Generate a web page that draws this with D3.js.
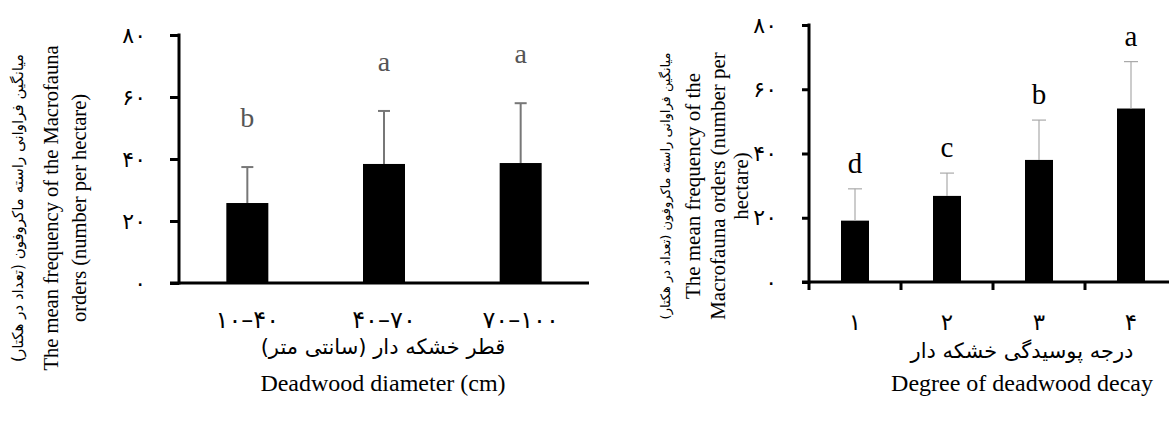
<!DOCTYPE html>
<html>
<head>
<meta charset="utf-8">
<script src="https://cdn.jsdelivr.net/npm/d3@7"></script>
<style>
  body { margin: 0; background: #fff; }
  svg text { font-family: "Liberation Serif", "Times New Roman", serif; }
  .fa { font-family: "DejaVu Sans", sans-serif; }
</style>
</head>
<body>
<svg id="chart" width="1169" height="421"></svg>
<script>
// left chart: diameter classes
const diamCats = ["۱۰–۴۰", "۴۰–۷۰", "۷۰–۱۰۰"];
const diamMeans = [25.8, 38.4, 38.7];
const diamErr = [11.6, 17.1, 19.3];
const diamLetters = ["b", "a", "a"];

// right chart: decay degree
const decayCats = ["۱", "۲", "۳", "۴"];
const decayMeans = [19.1, 26.8, 38.0, 54.0];
const decayErr = [9.9, 7.1, 12.4, 14.6];
const decayLetters = ["d", "c", "b", "a"];

const yTicks = [0, 20, 40, 60, 80];

const faDigits = "۰۱۲۳۴۵۶۷۸۹";
const fa = n => String(n).replace(/\d/g, d => faDigits[d]);

const svg = d3.select("#chart");

function drawChart(opt) {
  const y = d3.scaleLinear().domain([0, 80]).range([opt.y0, opt.y1]);
  const x = d3.scaleBand().domain(opt.cats).range([opt.x0, opt.x1]).padding(0);
  const cx = i => x(opt.cats[i]) + x.bandwidth() / 2;
  const g = svg.append("g");

  // bars
  g.selectAll("rect.bar")
    .data(opt.means)
    .enter().append("rect")
    .attr("class", "bar")
    .attr("x", (d, i) => cx(i) - opt.barW / 2)
    .attr("y", d => y(d))
    .attr("width", opt.barW)
    .attr("height", d => y(0) - y(d))
    .attr("fill", "#000");

  // error bars
  const eb = g.selectAll("g.err")
    .data(opt.means)
    .enter().append("g")
    .attr("class", "err")
    .attr("stroke", opt.errColor)
    .attr("stroke-width", opt.errW);
  eb.append("line")
    .attr("x1", (d, i) => cx(i))
    .attr("x2", (d, i) => cx(i))
    .attr("y1", d => y(d))
    .attr("y2", (d, i) => y(d + opt.err[i]));
  eb.append("line")
    .attr("x1", (d, i) => cx(i) - opt.capW)
    .attr("x2", (d, i) => cx(i) + opt.capW)
    .attr("y1", (d, i) => y(d + opt.err[i]))
    .attr("y2", (d, i) => y(d + opt.err[i]));

  // significance letters
  g.selectAll("text.letter")
    .data(opt.letters)
    .enter().append("text")
    .attr("class", "letter")
    .attr("x", (d, i) => cx(i))
    .attr("y", (d, i) => y(opt.means[i] + opt.err[i]) - opt.letterGap)
    .attr("text-anchor", "middle")
    .attr("font-size", opt.letterSize)
    .attr("fill", opt.letterColor)
    .text(d => d);

  // y axis
  const yAxis = g.append("g")
    .attr("transform", `translate(${opt.x0},0)`)
    .call(d3.axisLeft(y).tickValues(yTicks).tickSize(opt.tick).tickPadding(opt.tickPad).tickFormat(fa));
  yAxis.select(".domain").attr("stroke-width", 3).attr("d", `M0,${opt.y1 - 1.5}V${opt.y0 + 1.5}`);
  yAxis.selectAll(".tick line").attr("stroke-width", 3);
  yAxis.selectAll(".tick text").attr("font-size", opt.yLabSize).attr("class", "fa");

  // x axis line
  g.append("line")
    .attr("x1", opt.x0 - opt.tick).attr("x2", opt.xLineEnd)
    .attr("y1", opt.y0).attr("y2", opt.y0)
    .attr("stroke", "#000").attr("stroke-width", 3);

  if (opt.xTicks) {
    g.selectAll("line.xt")
      .data(d3.range(opt.cats.length))
      .enter().append("line")
      .attr("x1", i => x(opt.cats[i])).attr("x2", i => x(opt.cats[i]))
      .attr("y1", opt.y0).attr("y2", opt.y0 + 8)
      .attr("stroke", "#000").attr("stroke-width", 3);
  }

  // x labels
  g.selectAll("text.xl")
    .data(opt.cats)
    .enter().append("text")
    .attr("class", "fa")
    .attr("x", d => x(d) + x.bandwidth() / 2)
    .attr("y", opt.xLabY)
    .attr("text-anchor", "middle")
    .attr("font-size", opt.xLabSize)
    .text(d => d);

  // x titles
  g.append("text")
    .attr("class", "fa")
    .attr("x", opt.xTitleX).attr("y", opt.xTitleFaY)
    .attr("text-anchor", "middle").attr("direction", "rtl")
    .attr("font-size", opt.xTitleFaSize)
    .text(opt.xTitleFa);
  g.append("text")
    .attr("x", opt.xTitleX).attr("y", opt.xTitleEnY)
    .attr("text-anchor", "middle")
    .attr("font-size", opt.xTitleEnSize)
    .text(opt.xTitleEn);

  // y titles (rotated)
  opt.yTitle.forEach(t => {
    g.append("text")
      .attr("class", t.fa ? "fa" : null)
      .attr("transform", `translate(${t.x},${opt.yTitleCy}) rotate(-90)`)
      .attr("text-anchor", "middle")
      .attr("direction", t.fa ? "rtl" : "ltr")
      .attr("font-size", t.size)
      .text(t.text);
  });
}

const yTitleFa = "میانگین فراوانی راسته ماکروفون (تعداد در هکتار)";

drawChart({
  cats: diamCats, means: diamMeans, err: diamErr, letters: diamLetters,
  x0: 179, x1: 589, y0: 283, y1: 35, xLineEnd: 589,
  barW: 42, capW: 6, errColor: "#777", errW: 2,
  letterSize: 28, letterColor: "#555", letterGap: 40,
  tick: 9, tickPad: 24, yLabSize: 22,
  xTicks: false, xLabY: 328, xLabSize: 24,
  xTitleX: 383, xTitleFaY: 354, xTitleFaSize: 21,
  xTitleFa: "قطر خشکه دار (سانتی متر)",
  xTitleEnY: 391, xTitleEnSize: 24, xTitleEn: "Deadwood diameter (cm)",
  yTitleCy: 208,
  yTitle: [
    { x: 23, size: 15, fa: true, text: yTitleFa },
    { x: 58, size: 20.5, text: "The mean frequency of the Macrofauna" },
    { x: 86, size: 20.5, text: "orders  (number per hectare)" }
  ]
});

drawChart({
  cats: decayCats, means: decayMeans, err: decayErr, letters: decayLetters,
  x0: 809, x1: 1177, y0: 282, y1: 25, xLineEnd: 1169,
  barW: 28, capW: 7, errColor: "#aaa", errW: 1.2,
  letterSize: 29, letterColor: "#000", letterGap: 16,
  tick: 7, tickPad: 25, yLabSize: 22,
  xTicks: true, xLabY: 330, xLabSize: 23,
  xTitleX: 1022, xTitleFaY: 358, xTitleFaSize: 21,
  xTitleFa: "درجه پوسیدگی خشکه دار",
  xTitleEnY: 391, xTitleEnSize: 24, xTitleEn: "Degree of deadwood decay",
  yTitleCy: 186,
  yTitle: [
    { x: 670, size: 13, fa: true, text: yTitleFa },
    { x: 700, size: 21, text: "The mean frequency of the" },
    { x: 725, size: 21, text: "Macrofauna orders (number per" },
    { x: 748, size: 21, text: "hectare)" }
  ]
});
</script>
</body>
</html>
